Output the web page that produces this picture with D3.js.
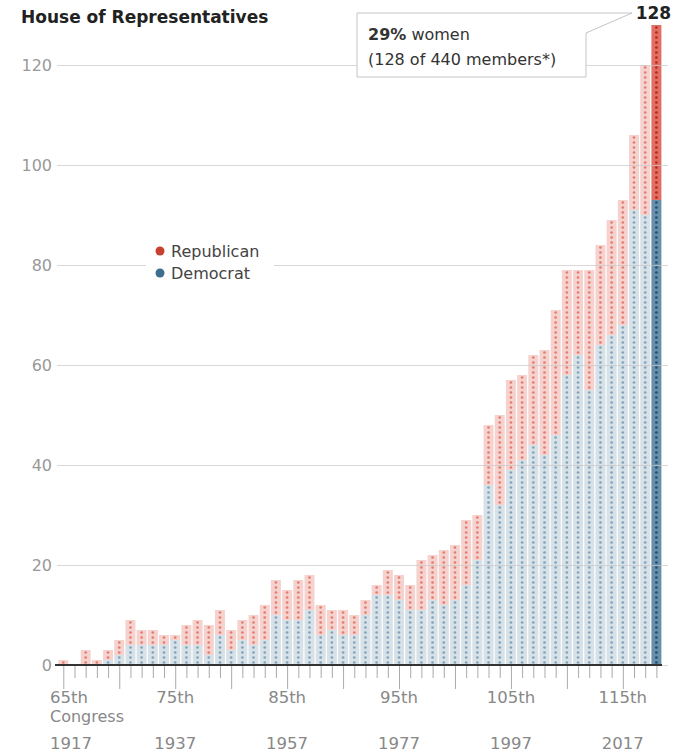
<!DOCTYPE html>
<html>
<head>
<meta charset="utf-8">
<script src="https://cdn.jsdelivr.net/npm/d3@7"></script>
<style>
  body { margin: 0; background: #fff; }
  svg text { font-family: "DejaVu Sans", sans-serif; }
</style>
</head>
<body>
<div id="chart"></div>
<script>
// women in the House, by Congress
var congress = [65,66,67,68,69,70,71,72,73,74,75,76,77,78,79,80,81,82,83,84,85,86,87,88,89,90,
                91,92,93,94,95,96,97,98,99,100,101,102,103,104,105,106,107,108,109,110,111,112,
                113,114,115,116,117,118];
var dem = [0,0,0,0,1,2,4,4,4,4,5,4,4,2,6,3,5,4,5,10,9,9,11,6,7,6,
           6,10,14,14,13,11,11,13,12,13,16,21,36,32,39,41,44,42,46,58,62,55,
           64,66,68,91,90,93];
var rep = [1,0,3,1,2,3,5,3,3,2,1,4,5,6,5,4,4,6,7,7,6,8,7,6,4,5,
           4,3,2,5,5,5,10,9,11,11,13,9,12,18,18,17,18,21,25,21,17,24,
           20,23,25,15,30,35];
var labelCongress = [65,75,85,95,105,115];
var labelText = ["65th","75th","85th","95th","105th","115th"];
var labelYears = ["1917","1937","1957","1977","1997","2017"];
var yTicks = [0,20,40,60,80,100,120];

var W = 678, H = 754;
var svg = d3.select("#chart").append("svg").attr("width", W).attr("height", H);

var x = d3.scaleLinear().domain([65,118]).range([63.3,656.4]);
var y = d3.scaleLinear().domain([0,120]).range([665,65]);
var bw = 10;
var last = 118;

var rows = congress.map(function(c,i){ return {c:c, d:dem[i], r:rep[i]}; });

// bars
var g = svg.append("g");
var bars = g.selectAll("g.bar").data(rows).enter().append("g").attr("class","bar");

bars.append("rect")
  .attr("x", function(d){ return x(d.c)-bw/2; })
  .attr("width", bw)
  .attr("y", function(d){ return y(d.d); })
  .attr("height", function(d){ return y(0)-y(d.d); })
  .attr("fill", function(d){ return d.c==last ? "#6890ac" : "#d7e1e8"; });

bars.append("rect")
  .attr("x", function(d){ return x(d.c)-bw/2; })
  .attr("width", bw)
  .attr("y", function(d){ return y(d.d+d.r); })
  .attr("height", function(d){ return y(d.d)-y(d.d+d.r); })
  .attr("fill", function(d){ return d.c==last ? "#e26f63" : "#f6d2ce"; });

// one dot per member
bars.each(function(d){
  var sel = d3.select(this);
  for (var k=0;k<d.d+d.r;k++) {
    var isDem = k < d.d;
    var col;
    if (d.c==last) col = isDem ? "#244d6b" : "#b8271a";
    else col = isDem ? "#84a3b9" : "#e37c71";
    sel.append("circle")
      .attr("cx", x(d.c))
      .attr("cy", y(k+0.5))
      .attr("r", 1.35)
      .attr("fill", col);
  }
});

// gridlines + y labels
var yAxis = d3.axisLeft(y).tickValues(yTicks).tickSize(-611).tickPadding(5);
var ya = svg.append("g").attr("transform","translate(57,0)").call(yAxis);
ya.select(".domain").remove();
ya.selectAll(".tick line").attr("stroke","#c8c8c8").attr("stroke-opacity",0.7).attr("stroke-width",1.2);
ya.selectAll(".tick text").attr("fill","#999").style("font-size","16px").style("font-family","DejaVu Sans");

// baseline
svg.append("line").attr("x1",55).attr("x2",662).attr("y1",y(0)).attr("y2",y(0))
  .attr("stroke","#333").attr("stroke-width",2);

// x ticks
var xAxis = d3.axisBottom(x).tickValues(congress).tickSize(12).tickFormat("");
var xa = svg.append("g").attr("transform","translate(0,"+(y(0)+1)+")").call(xAxis);
xa.select(".domain").remove();
xa.selectAll(".tick line").attr("stroke","#aaa")
  .attr("y2", function(d){ return (d-65)%5==0 ? 23 : 12; });

// x labels
labelCongress.forEach(function(c,i){
  var first = i==0;
  var tx = first ? 50 : x(c);
  var anchor = first ? "start" : "middle";
  svg.append("text").attr("x",tx).attr("y",703).attr("text-anchor",anchor)
    .attr("fill","#888").style("font-size","16.5px").text(labelText[i]);
  svg.append("text").attr("x",tx).attr("y",749).attr("text-anchor",anchor)
    .attr("fill","#888").style("font-size","16.5px").text(labelYears[i]);
});
svg.append("text").attr("x",50).attr("y",722).attr("fill","#888")
  .style("font-size","16px").text("Congress");

// title
svg.append("text").attr("x",21).attr("y",23).attr("fill","#222")
  .style("font-size","17px").style("font-weight","bold").text("House of Representatives");

// legend
svg.append("rect").attr("x",146).attr("y",240).attr("width",128).attr("height",46).attr("fill","#fff");
var legend = [["Republican","#c8402f"],["Democrat","#3e6e8e"]];
legend.forEach(function(l,i){
  svg.append("circle").attr("cx",160).attr("cy",251+i*22).attr("r",4.5).attr("fill",l[1]);
  svg.append("text").attr("x",171).attr("y",257+i*22).attr("fill","#444")
    .style("font-size","16px").text(l[0]);
});

// annotation
var total = dem[dem.length-1]+rep[rep.length-1];
svg.append("path")
  .attr("d","M357,13 L632,13 L586,33 L586,77 L357,77 Z")
  .attr("fill","#fff").attr("stroke","#c4c4c4").attr("stroke-width",1);
var t1 = svg.append("text").attr("x",368).attr("y",40).attr("fill","#333").style("font-size","16px");
t1.append("tspan").style("font-weight","bold").text("29%");
t1.append("tspan").text(" women");
svg.append("text").attr("x",368).attr("y",65).attr("fill","#333").style("font-size","16px")
  .text("(" + total + " of 440 members*)");
svg.append("text").attr("x",x(last)-3).attr("y",19).attr("text-anchor","middle").attr("fill","#222")
  .style("font-size","17px").style("font-weight","bold").text(total);
</script>
</body>
</html>
